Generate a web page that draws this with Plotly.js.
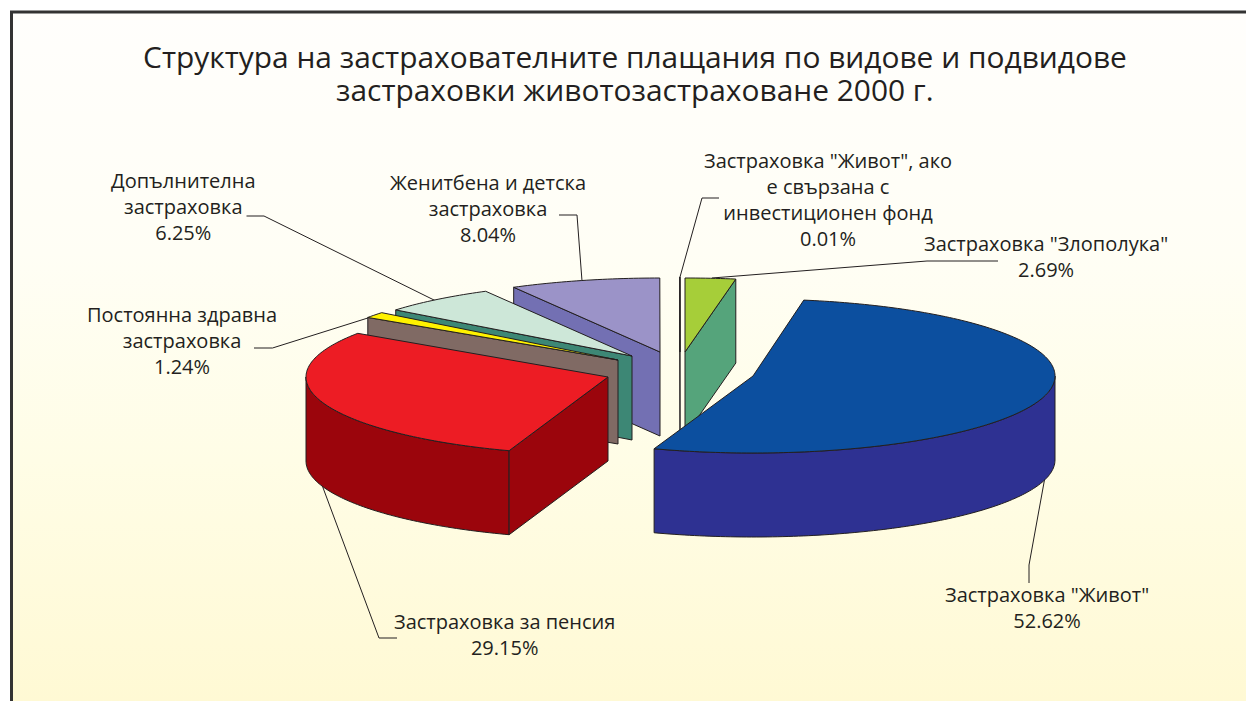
<!DOCTYPE html>
<html>
<head>
<meta charset="utf-8">
<script src="https://cdn.plot.ly/plotly-3.0.1.min.js"></script>
<style>
html,body{margin:0;padding:0;background:#fff;}
#chart{width:1246px;height:701px;background:linear-gradient(180deg,#fffefc 0%,#fffef5 35%,#fffde6 65%,#fff9d4 100%) no-repeat 13px 13px/1233px 688px;}
</style>
</head>
<body>
<div id="chart"></div>
<script>
// ---- data (clockwise from 12 o'clock) ----
const categories = [
  'Застраховка "Злополука"',
  'Застраховка "Живот"',
  'Застраховка за пенсия',
  'Постоянна здравна застраховка',
  'Допълнителна застраховка',
  'Женитбена и детска застраховка',
  'Застраховка "Живот", ако е свързана с инвестиционен фонд'
];
const shares = [2.69, 52.62, 29.15, 1.24, 6.25, 8.04, 0.01];
const labelLines = [
  ['Застраховка "Злополука"'],
  ['Застраховка "Живот"'],
  ['Застраховка за пенсия'],
  ['Постоянна здравна', 'застраховка'],
  ['Допълнителна', 'застраховка'],
  ['Женитбена и детска', 'застраховка'],
  ['Застраховка "Живот", ако', 'е свързана с', 'инвестиционен фонд']
];
const titleLines = [
  'Структура на застрахователните плащания по видове и подвидове',
  'застраховки животозастраховане 2000 г.'
];

// ---- styles ----
const topColors  = ['#a6ce39', '#0c4f9f', '#ed1c24', '#fff200', '#cde7d8', '#9b93c8', '#fffef4'];
const wallColors = ['#55a47b', '#2e3192', '#9b050c', '#806a64', '#3d8775', '#7370b3', '#fffef4'];
const INK = '#231f20';
const FONT = '"Open Sans", sans-serif';

// ---- 3-D projection of each exploded slice (pixel-scaled axes) ----
const apexX = [685, 753, 608, 618, 632, 660, 680];
const apexY = [352, 376, 377, 360, 356, 352, 352];
const radX  = 302;
const radY  = [74, 77, 78, 76, 74, 74, 75];
const depth = 84;
const drawOrder = [0, 6, 5, 4, 3, 2, 1];

const rim = (i, deg, dz) => {
  const a = deg * Math.PI / 180;
  return [apexX[i] + radX * Math.sin(a), apexY[i] - radY[i] * Math.cos(a) + dz];
};
const polyTrace = (name, pts, fill) => ({
  type: 'scatter', mode: 'lines', name,
  x: pts.map(p => p[0]).concat(pts[0][0]),
  y: pts.map(p => p[1]).concat(pts[0][1]),
  fill: 'toself', fillcolor: fill,
  line: {color: INK, width: 1, simplify: false},
  hoverinfo: 'text', text: name, showlegend: false
});
const arc = (i, from, to, dz) => {
  const pts = [];
  const n = Math.max(1, Math.ceil(Math.abs(to - from)));
  for (let k = 0; k <= n; k++) pts.push(rim(i, from + (to - from) * k / n, dz));
  return pts;
};

let acc = 0;
const startDeg = [], endDeg = [];
shares.forEach(s => { startDeg.push(acc * 3.6); acc += s; endDeg.push(acc * 3.6); });

const traces = [];
drawOrder.forEach(i => {
  const a0 = startDeg[i], a1 = endDeg[i];
  const nm = categories[i] + ': ' + shares[i].toFixed(2) + '%';
  const apex = [apexX[i], apexY[i]], apexLow = [apexX[i], apexY[i] + depth];
  // outer curved wall: only the front half of the rim faces the viewer
  const f0 = Math.max(a0, 90), f1 = Math.min(a1, 270);
  if (f1 > f0) {
    traces.push(polyTrace(nm, arc(i, f0, f1, 0).concat(arc(i, f1, f0, depth)), wallColors[i]));
  }
  // cut faces that look toward the viewer
  if (a0 > 180 && a0 < 360) {
    traces.push(polyTrace(nm, [apex, rim(i, a0, 0), rim(i, a0, depth), apexLow], wallColors[i]));
  }
  if (a1 > 0 && a1 < 180) {
    traces.push(polyTrace(nm, [apex, rim(i, a1, 0), rim(i, a1, depth), apexLow], wallColors[i]));
  }
  // top face
  traces.push(polyTrace(nm, [apex].concat(arc(i, a0, a1, 0)), topColors[i]));
});

// ---- labels ----
const labelX = [1046, 1047, 504.5, 182, 183, 488, 828];
const labelY = [256.5, 607, 634, 340, 206, 208, 199];
const annText = i => labelLines[i].concat(shares[i].toFixed(2) + '%').join('<br>');
const annotations = categories.map((c, i) => ({
  xref: 'x', yref: 'y', x: labelX[i], y: labelY[i], text: annText(i),
  showarrow: false, xanchor: 'center', yanchor: 'middle', align: 'center',
  font: {family: FONT, size: 20, color: INK}
}));
annotations.push({
  xref: 'x', yref: 'y', x: 635, y: 89, text: titleLines[1], showarrow: false,
  xanchor: 'center', yanchor: 'middle', font: {family: FONT, size: 29.9, color: INK}
});

// ---- leader lines and frame ----
const leaders = [
  'M712,278 L927,261 L998,261',
  'M1045,477 L1029,565 L1029,583',
  'M322,485 L379,638 L397,638',
  'M371,317 L272.5,348 L254,348',
  'M436,301 L264,216 L246.5,216',
  'M582,281 L577,215 L559,215',
  'M680,277 L702,198 L719,198'
];
const shapes = leaders.map(path => ({
  type: 'path', xref: 'x', yref: 'y', path, layer: 'below',
  line: {color: INK, width: 1}
}));
shapes.push({type: 'path', xref: 'x', yref: 'y', path: 'M11.5,701 L11.5,12 L1246,12',
  layer: 'below', line: {color: '#333333', width: 3}});

const layout = {
  width: 1246, height: 701,
  margin: {l: 0, r: 0, t: 0, b: 0},
  paper_bgcolor: 'rgba(0,0,0,0)', plot_bgcolor: 'rgba(0,0,0,0)',
  showlegend: false,
  title: {
    text: titleLines[0], x: 635 / 1246, xanchor: 'center',
    y: 1 - 58 / 701, yanchor: 'middle', yref: 'container',
    font: {family: FONT, size: 29.9, color: INK}
  },
  xaxis: {range: [0, 1246], visible: false, fixedrange: true},
  yaxis: {range: [701, 0], visible: false, fixedrange: true},
  annotations, shapes
};
Plotly.newPlot('chart', traces, layout, {displayModeBar: false, responsive: false});
</script>
</body>
</html>
